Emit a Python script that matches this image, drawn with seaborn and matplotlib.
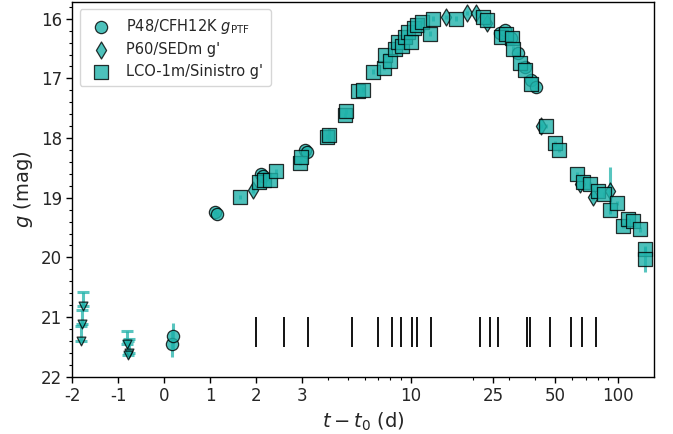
import numpy as np
import matplotlib
matplotlib.use("Agg")
import matplotlib.pyplot as plt
import matplotlib.ticker as mticker
import pandas as pd
import seaborn as sns

# P48/CFH12K detections
p48_t = [0.16, 0.19, 1.10, 1.15, 2.11, 2.15, 3.10, 3.15, 27.0, 28.5, 30.4, 33.0, 35.8, 38.0, 40.4]
p48_m = [21.45, 21.32, 19.24, 19.27, 18.60, 18.63, 18.20, 18.23, 16.24, 16.19, 16.32, 16.58, 16.81, 17.02, 17.15]
p48_e = [0.22, 0.22, 0.03, 0.03, 0.03, 0.03, 0.03, 0.03, 0.02, 0.02, 0.02, 0.02, 0.02, 0.02, 0.03]

# P48 upper limits
lim_t = [-1.76, -1.78, -1.81, -0.82, -0.77, -0.78]
lim_m = [20.82, 21.12, 21.40, 21.46, 21.60, 21.64]
lim_e = [0.24, 0.23, 0.25, 0.23, 0.24, 0.24]

# P60/SEDm
p60_t = [1.93, 14.9, 18.7, 20.6, 23.5, 42.8, 65.4, 76.1, 91.2]
p60_m = [18.87, 15.97, 15.90, 15.90, 16.08, 17.80, 18.77, 18.98, 18.88]
p60_e = [0.05, 0.03, 0.03, 0.03, 0.03, 0.04, 0.05, 0.06, 0.40]

# LCO-1m/Sinistro
lco_t = [1.65, 2.07, 2.18, 2.31, 2.42, 2.95, 2.97, 3.94, 4.06, 4.83,
         4.86, 5.59, 5.91, 6.56, 7.46, 7.52, 8.0, 8.40, 8.71, 9.1,
         9.39, 9.74, 10.1, 10.4, 10.7, 11.3, 12.4, 12.8, 16.5, 22.4,
         23.5, 27.4, 29.0, 30.7, 31.2, 33.6, 35.5, 38.3, 45.2, 49.5,
         52.0, 63.6, 68.0, 73.2, 80.2, 85.7, 92.2, 98.9, 105.6, 111.7,
         118.0, 127.3, 134.6, 134.6]
lco_m = [18.99, 18.74, 18.71, 18.71, 18.56, 18.42, 18.31, 17.98, 17.95, 17.62,
         17.55, 17.21, 17.19, 16.89, 16.82, 16.61, 16.71, 16.50, 16.39, 16.46,
         16.30, 16.22, 16.39, 16.16, 16.11, 16.05, 16.25, 16.00, 16.00, 15.97,
         16.03, 16.30, 16.26, 16.33, 16.50, 16.75, 16.86, 17.09, 17.80, 18.09,
         18.20, 18.61, 18.73, 18.77, 18.88, 18.94, 19.21, 19.09, 19.47, 19.36,
         19.39, 19.53, 19.86, 20.03]
lco_e = [0.04] * 7 + [0.04, 0.12] + [0.04] * 44 + [0.22]

# spectroscopic epochs
spec_t = [2.0, 2.6, 3.2, 5.2, 7.0, 8.1, 9.0, 10.15, 10.8, 12.5,
          21.6, 24.2, 26.4, 36.5, 37.8, 46.9, 59.7, 67.4, 78.9]

xticks = [-2, -1, 0, 1, 2, 3, 10, 25, 50, 100]
xminor = [4, 5, 6, 7, 8, 9, 20, 30, 40, 60, 70, 80, 90]

TEAL = "lightseagreen"
K = 0.2219
L3 = np.log10(3.0)


def fwd(x):
    x = np.asarray(x, dtype=float)
    with np.errstate(all="ignore"):
        return np.where(x < 3, L3 + (x - 3) * K, np.log10(np.maximum(x, 1e-12)))


def inv(y):
    y = np.asarray(y, dtype=float)
    with np.errstate(all="ignore"):
        return np.where(y < L3, 3 + (y - L3) / K, 10 ** np.minimum(y, 300))


sns.set_style("ticks")
plt.rcParams["font.family"] = ["DejaVu Sans"]
plt.rcParams["mathtext.fontset"] = "dejavusans"

fig, ax = plt.subplots(figsize=(6.73, 4.34), dpi=100)
fig.subplots_adjust(left=0.1074, right=0.9722, top=0.9954, bottom=0.132)

ax.set_xscale("function", functions=(fwd, inv))

eb = dict(fmt="none", ecolor=TEAL, elinewidth=2.2, alpha=0.75, zorder=1)
ax.errorbar(lim_t, lim_m, yerr=[lim_e, [0] * len(lim_e)], capsize=4, capthick=2.2, **eb)
ax.errorbar(p48_t, p48_m, yerr=p48_e, **eb)
ax.errorbar(p60_t, p60_m, yerr=p60_e, **eb)
ax.errorbar(lco_t, lco_m, yerr=lco_e, **eb)

df_p48 = pd.DataFrame({"t": p48_t, "m": p48_m})
df_p60 = pd.DataFrame({"t": p60_t, "m": p60_m})
df_lco = pd.DataFrame({"t": lco_t, "m": lco_m})
df_lim = pd.DataFrame({"t": lim_t, "m": lim_m})

kw = dict(color=TEAL, edgecolor="black", linewidth=0.9, alpha=0.8, zorder=3)
sns.scatterplot(data=df_p48, x="t", y="m", marker="o", s=78, ax=ax,
                label=r"P48/CFH12K $g_{\rm PTF}$", **kw)
sns.scatterplot(data=df_p60, x="t", y="m", marker="d", s=75, ax=ax,
                label="P60/SEDm g'", **kw)
sns.scatterplot(data=df_lco, x="t", y="m", marker="s", s=92, ax=ax,
                label="LCO-1m/Sinistro g'", **kw)
sns.scatterplot(data=df_lim, x="t", y="m", marker="v", s=40, ax=ax, legend=False, **kw)

ax.vlines(spec_t, 21.0, 21.5, color="black", lw=1.3, zorder=2)

ax.set_xlim(-2, 150)
ax.set_ylim(22, 15.72)
ax.xaxis.set_major_locator(mticker.FixedLocator(xticks))
ax.xaxis.set_major_formatter(mticker.FixedFormatter([str(v) for v in xticks]))
ax.xaxis.set_minor_locator(mticker.FixedLocator(xminor))
ax.xaxis.set_minor_formatter(mticker.NullFormatter())
ax.yaxis.set_major_locator(mticker.MultipleLocator(1))
ax.yaxis.set_minor_locator(mticker.MultipleLocator(0.2))

ax.tick_params(axis="both", which="major", labelsize=12, length=4, width=1, color="black")
ax.tick_params(axis="both", which="minor", length=2.5, width=0.8, color="black")
for sp in ax.spines.values():
    sp.set_color("black")
    sp.set_linewidth(1)

ax.set_xlabel(r"$t - t_0$ (d)", fontsize=14)
ax.set_ylabel(r"$g$ (mag)", fontsize=14)

ax.legend(loc="upper left", fontsize=10.5, frameon=True, framealpha=0.8,
          markerscale=1.0, labelspacing=0.45, handletextpad=0.7, borderpad=0.5)

fig.savefig("out.png", dpi=100)
